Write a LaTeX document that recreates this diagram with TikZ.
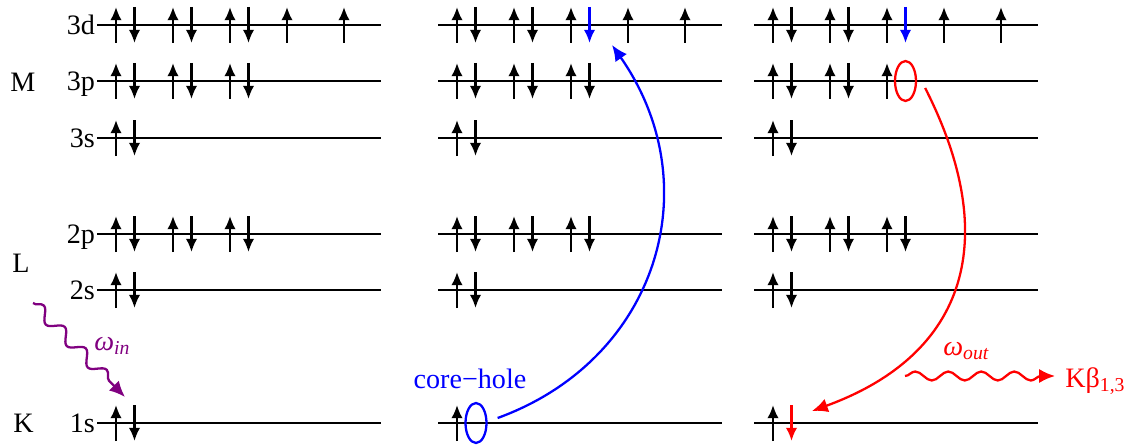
\documentclass[tikz,border=0pt]{standalone}
\usepackage{fontspec}
\setmainfont{Liberation Serif}
\usetikzlibrary{arrows.meta,decorations.pathmorphing,shapes.geometric}
\definecolor{photon}{RGB}{128,0,128}

\tikzset{
  level/.style={line width=1.3pt},
  spin/.style={line width=1.3pt, -{Latex[length=7.5pt,width=6.5pt]}},
  hole/.style={ellipse, draw, line width=1.3pt, minimum width=0.42cm, minimum height=0.8cm, inner sep=0pt},
  wave/.style={decorate, decoration={snake, amplitude=1.2mm, segment length=6mm, post length=2mm}},
  bigtip/.style={-{Latex[length=9pt,width=8pt]}},
  shell/.style={anchor=base west, inner sep=0pt},
  orb/.style={anchor=base east, inner sep=1pt},
}
\newcommand{\spinup}[3][black]{\draw[spin,#1] (#2,#3-0.36) -- (#2,#3+0.36);}
\newcommand{\spindn}[3][black]{\draw[spin,#1] (#2,#3+0.36) -- (#2,#3-0.36);}

\begin{document}
\begin{tikzpicture}[every node/.style={font=\fontsize{16}{19}\selectfont}]
    \useasboundingbox (0,0) rectangle (22.82,8.94);

    % levels
    \foreach \x in {1.94,8.76,15.08}
        \foreach \y in {8.44,7.32,6.18,4.26,3.14,0.48}
            \draw[level] (\x,\y) -- ++(5.68,0);

    % shells and orbitals
    \node[shell] (M) at (0.2,7.12) {M};
    \node[shell] (L) at (0.24,3.5) {L};
    \node[shell] (K) at (0.26,0.3) {K};
    \node[orb] (o3d) at (1.94,8.25) {3d};
    \node[orb] (o3p) at (1.94,7.13) {3p};
    \node[orb] (o3s) at (1.94,5.99) {3s};
    \node[orb] (o2p) at (1.94,4.07) {2p};
    \node[orb] (o2s) at (1.94,2.95) {2s};
    \node[orb] (o1s) at (1.94,0.29) {1s};

    % electrons, all panels
    \foreach \x in {1.94,8.76,15.08} {
        \foreach \i in {0,1} {\spinup{\x+0.38+1.14*\i}{8.44} \spindn{\x+0.75+1.14*\i}{8.44}}
        \foreach \i in {2,3,4} {\spinup{\x+0.38+1.14*\i}{8.44}}
        \foreach \i in {0,1} {\spinup{\x+0.38+1.14*\i}{7.32} \spindn{\x+0.75+1.14*\i}{7.32}}
        \spinup{\x+2.66}{7.32}
        \foreach \y in {6.18,3.14} {\spinup{\x+0.38}{\y} \spindn{\x+0.75}{\y}}
        \foreach \i in {0,1,2} {\spinup{\x+0.38+1.14*\i}{4.26} \spindn{\x+0.75+1.14*\i}{4.26}}
        \spinup{\x+0.38}{0.48}
    }

    % ground state
    \spindn{1.94+3.03}{8.44}
    \spindn{1.94+3.03}{7.32}
    \spindn{1.94+0.75}{0.48}

    % intermediate state
    \spindn[blue]{8.76+3.03}{8.44}
    \spindn{8.76+3.03}{7.32}
    \node[hole, blue] (core) at (9.52,0.48) {};
    \coordinate (top) at (12.24,8.04);
    \draw[blue, line width=1.3pt, bigtip]
        ([shift={(0.2,0.1)}]core.east) to[out=20, in=-55, looseness=1.12] (top);
    \node[blue, anchor=base] (corelbl) at (9.4,1.18) {core−hole};

    % final state
    \spindn[blue]{15.08+3.03}{8.44}
    \node[hole, red] (hole3p) at (18.11,7.32) {};
    \spindn[red]{15.08+0.75}{0.48}
    \coordinate (bot) at (16.24,0.72);
    \draw[red, line width=1.3pt, bigtip]
        ([shift={(0.16,-0.14)}]hole3p.east) to[out=-63, in=20, looseness=1.25] (bot);

    % photons
    \coordinate (inA) at (0.66,2.88);
    \coordinate (inB) at (2.5,1.0);
    \draw[photon, line width=1.3pt, wave, bigtip] (inA) -- (inB);
    \node[photon, shell] (win) at (1.88,1.94) {\textit{ω}\textsubscript{\textit{in}}};
    \coordinate (outA) at (18.1,1.42);
    \coordinate (outB) at (21.1,1.42);
    \draw[red, line width=1.3pt, wave, decoration={amplitude=0.9mm, segment length=6.6mm}, bigtip] (outA) -- (outB);
    \node[red, shell] (wout) at (18.86,1.84) {\textit{ω}\textsubscript{\textit{out}}};
    \node[red, shell] (kb) at (21.3,1.2) {Kβ\textsubscript{1,3}};
\end{tikzpicture}
\end{document}
